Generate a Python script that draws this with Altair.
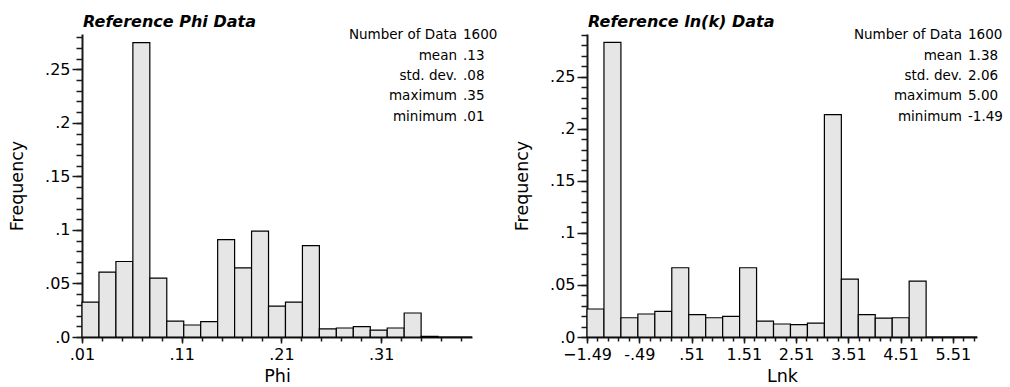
import altair as alt
import pandas as pd

FONT = "DejaVu Sans"

# ---- data ----
phi_min = 0.01
phi_bin = 0.017
phi_freq = [0.0326, 0.0606, 0.0705, 0.2749, 0.0550, 0.0149, 0.0112, 0.0143,
            0.0910, 0.0646, 0.0988, 0.0289, 0.0326, 0.0854, 0.0075, 0.0084,
            0.0096, 0.0065, 0.0084, 0.0224, 0.0006, 0.0, 0.0]

lnk_min = -1.49
lnk_bin = 0.3245
lnk_freq = [0.0269, 0.2829, 0.0185, 0.0221, 0.0246, 0.0665, 0.0214, 0.0185,
            0.0198, 0.0665, 0.0153, 0.0125, 0.0118, 0.0134, 0.2136, 0.0556,
            0.0214, 0.0182, 0.0185, 0.0537, 0.0, 0.0, 0.0]

phi_major = [0.01, 0.11, 0.21, 0.31]
phi_minor = [0.01, 0.03, 0.05, 0.07, 0.09, 0.11, 0.13, 0.15, 0.17, 0.19,
             0.21, 0.23, 0.25, 0.27, 0.29, 0.31, 0.33, 0.35, 0.37, 0.39]
lnk_major = [-1.49, -0.49, 0.51, 1.51, 2.51, 3.51, 4.51, 5.51]
lnk_minor = [round(-1.49 + 0.2 * i, 2) for i in range(38)]

y_major = [0, 0.05, 0.1, 0.15, 0.2, 0.25]
phi_y_minor = [round(0.01 * i, 2) for i in range(29)]
lnk_y_minor = [round(0.01 * i, 2) for i in range(30)]
phi_ymax = 0.283
lnk_ymax = 0.291

titles = ["Reference Phi Data", "Reference ln(k) Data"]
x_titles = ["Phi", "Lnk"]
stat_labels = ["Number of Data", "mean", "std. dev.", "maximum", "minimum"]
phi_stats = ["1600", ".13", ".08", ".35", ".01"]
lnk_stats = ["1600", "1.38", "2.06", "5.00", "-1.49"]

# layout (pixels): each panel 390 wide, second panel starts 505 px right of the first
PW, PH, GAP = 390, 303, 505
LINE = "#1a1a1a"

Y_FMT = "datum.value == 0 ? '.0' : substring(format(datum.value, '.2~f'), 1)"
PHI_FMT = "substring(format(datum.value, '.2f'), 1)"
LNK_FMT = ("abs(datum.value) < 1 ? (datum.value < 0 ? '-' : '') + "
           "substring(format(abs(datum.value), '.2f'), 1) : format(datum.value, '.2f')")


def panel(idx, vmin, bw, freq, xmaj, xmin_ticks, ymax, ymin_ticks, stats, xfmt):
    n = len(freq)
    df = pd.DataFrame({
        "x0": [vmin + i * bw for i in range(n)],
        "x1": [vmin + (i + 1) * bw for i in range(n)],
        "f": freq,
    })
    x_off = idx * GAP
    xs = alt.Scale(domain=[vmin, vmin + n * bw], range=[x_off, x_off + PW], nice=False, zero=False)
    ys = alt.Scale(domain=[0, ymax], nice=False, zero=False)

    bars = alt.Chart(df).mark_rect(fill="#e6e6e6", stroke="black", strokeWidth=1.2).encode(
        x=alt.X("x0:Q", scale=xs,
                axis=alt.Axis(values=xmaj, labelExpr=xfmt, title=x_titles[idx], tickSize=6,
                              labelPadding=3, titlePadding=5, orient="bottom")),
        x2="x1:Q",
        y=alt.Y("f:Q", scale=ys,
                axis=alt.Axis(values=y_major, labelExpr=Y_FMT, title="Frequency", tickSize=10,
                              labelPadding=2, titlePadding=18, orient="left", offset=-x_off)),
        y2=alt.datum(0),
    )
    minor = alt.Chart(df).mark_point(opacity=0).encode(
        x=alt.X("x0:Q", scale=xs,
                axis=alt.Axis(values=xmin_ticks, labels=False, domain=False, title=None,
                              tickSize=4, orient="bottom")),
        y=alt.Y("f:Q", scale=ys,
                axis=alt.Axis(values=ymin_ticks, labels=False, domain=False, title=None,
                              tickSize=6, orient="left", offset=-x_off)),
    )
    one = alt.Data(values=[{"k": 0}])
    ttl = alt.Chart(one).mark_text(align="left", baseline="alphabetic", font=FONT,
                                   fontSize=16, fontWeight="bold", fontStyle="italic",
                                   color="black").encode(
        x=alt.value(x_off + 1), y=alt.value(-7.5), text=alt.value(titles[idx]))
    lab = alt.Chart(one).mark_text(align="right", baseline="alphabetic", font=FONT,
                                   fontSize=13.5, lineHeight=20.4, color="black").encode(
        x=alt.value(x_off + 375), y=alt.value(5.3), text=alt.value(stat_labels))
    val = alt.Chart(one).mark_text(align="left", baseline="alphabetic", font=FONT,
                                   fontSize=13.5, lineHeight=20.4, color="black").encode(
        x=alt.value(x_off + 381), y=alt.value(5.3), text=alt.value(stats))
    return [bars, minor, ttl, lab, val]


layers = (panel(0, phi_min, phi_bin, phi_freq, phi_major, phi_minor,
                phi_ymax, phi_y_minor, phi_stats, PHI_FMT)
          + panel(1, lnk_min, lnk_bin, lnk_freq, lnk_major, lnk_minor,
                  lnk_ymax, lnk_y_minor, lnk_stats, LNK_FMT))

chart = alt.layer(*layers).resolve_scale(
    x="independent", y="independent"
).properties(
    width=GAP + PW, height=PH,
    autosize=alt.AutoSizeParams(type="none"),
    padding={"left": 82, "top": 34, "right": 33, "bottom": 50},
    background="white",
).configure_view(stroke=None).configure_axis(
    labelFont=FONT, titleFont=FONT, labelFontSize=16, titleFontSize=17.5,
    titleFontWeight="normal", labelColor="black", titleColor="black",
    domainColor=LINE, tickColor=LINE, grid=False, labelFlush=False,
    labelOverlap=False, domainWidth=2, tickWidth=1.5,
)

chart.save("out.html", embed_options={"renderer": "svg", "actions": False})
